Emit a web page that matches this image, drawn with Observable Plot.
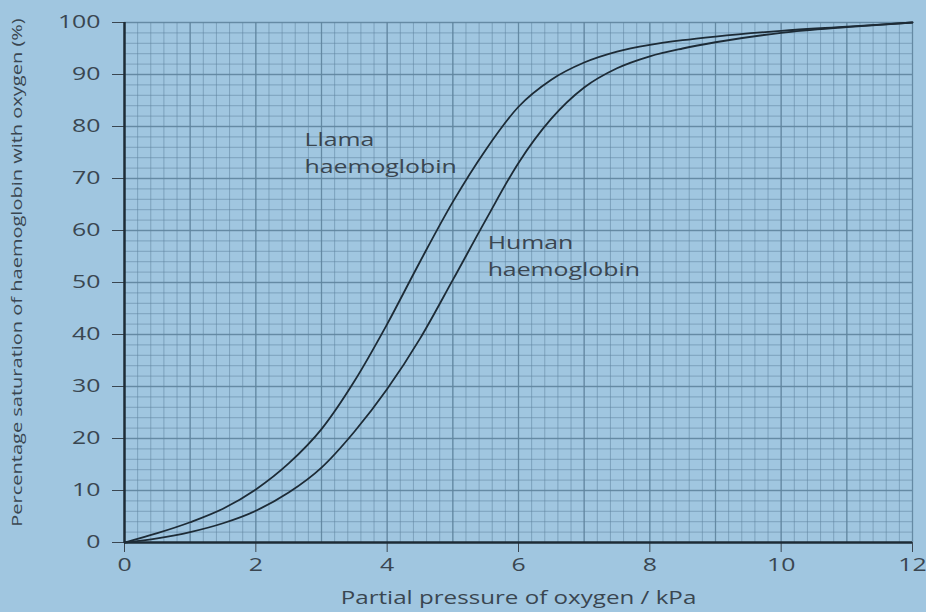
<!DOCTYPE html>
<html>
<head>
<meta charset="utf-8">
<script src="https://cdn.jsdelivr.net/npm/d3@7"></script>
<script src="https://cdn.jsdelivr.net/npm/@observablehq/plot@0.6"></script>
<style>
  html, body { margin: 0; padding: 0; background: #a0c6e0; }
  #chart svg { display: block; }
</style>
</head>
<body>
<div id="chart"></div>
<script>
// Oxygen dissociation curves: partial pressure (kPa) vs. % saturation
const pressure = [0, 0.5, 1, 1.5, 2, 2.5, 3, 3.5, 4, 4.5, 5, 5.5, 6, 6.5, 7, 7.5, 8, 8.5, 9, 10, 11, 12];
const llamaSat = [0, 1.8, 3.9, 6.5, 10.2, 15.2, 21.8, 31, 42, 54, 65.5, 75.5, 83.8, 89, 92.3, 94.4, 95.7, 96.6, 97.3, 98.4, 99.2, 100];
const humanSat = [0, 0.8, 2, 3.7, 6.1, 9.6, 14.4, 21.3, 29.5, 39.2, 50.5, 62, 73, 81.5, 87.5, 91.2, 93.5, 95, 96.2, 98.0, 99.1, 100];

// Axis ticks
const xTicks = [0, 2, 4, 6, 8, 10, 12];
const yTicks = [0, 10, 20, 30, 40, 50, 60, 70, 80, 90, 100];

// Curve labels, anchored in data coordinates
const labelText = ["Llama", "haemoglobin", "Human", "haemoglobin"];
const labelX = [2.74, 2.74, 5.53, 5.53];
const labelY = [77.3, 72.2, 57.6, 52.4];

const llama = pressure.map((p, i) => ({p, s: llamaSat[i]}));
const human = pressure.map((p, i) => ({p, s: humanSat[i]}));
const labels = labelText.map((t, i) => ({t, x: labelX[i], y: labelY[i]}));

// Graph-paper grid
const xMinor = d3.range(0.2, 12.01, 0.2);
const yMinor = d3.range(2, 100.1, 2);
const xMajor = d3.range(1, 12.01, 1);
const yMajor = d3.range(10, 100.1, 10);

const ink = "#1d2b36";
const textInk = "#3a4651";
const gridInk = "#5f849e";

const chart = Plot.plot({
  width: 926,
  height: 612,
  marginLeft: 124,
  marginRight: 14,
  marginTop: 22,
  marginBottom: 70,
  style: {
    background: "#a0c6e0",
    fontFamily: "'Open Sans', sans-serif",
    fontSize: "18px",
    color: textInk
  },
  x: {
    domain: [0, 12],
    ticks: xTicks,
    tickSize: 10,
    tickPadding: 6,
    label: null
  },
  y: {
    domain: [0, 100],
    ticks: yTicks,
    tickSize: 12,
    tickPadding: 12,
    label: null
  },
  marks: [
    Plot.ruleX(xMinor, {stroke: gridInk, strokeOpacity: 0.55, strokeWidth: 1}),
    Plot.ruleY(yMinor, {stroke: gridInk, strokeOpacity: 0.55, strokeWidth: 1}),
    Plot.ruleX(xMajor, {stroke: gridInk, strokeOpacity: 0.8, strokeWidth: 1.3}),
    Plot.ruleY(yMajor, {stroke: gridInk, strokeOpacity: 0.8, strokeWidth: 1.3}),
    Plot.ruleX([0], {stroke: ink, strokeWidth: 2.5}),
    Plot.ruleY([0], {stroke: ink, strokeWidth: 2.5}),
    Plot.line(llama, {x: "p", y: "s", curve: "monotone-x", stroke: ink, strokeWidth: 1.8}),
    Plot.line(human, {x: "p", y: "s", curve: "monotone-x", stroke: ink, strokeWidth: 1.8}),
    Plot.text(labels, {x: "x", y: "y", text: "t", textAnchor: "start", fill: textInk, fontSize: 18}),
    Plot.text(["Partial pressure of oxygen / kPa"], {frameAnchor: "bottom", dy: 61, fill: textInk, fontSize: 17.5}),
    Plot.text(["Percentage saturation of haemoglobin with oxygen (%)"], {frameAnchor: "left", textAnchor: "middle", dx: -107, dy: -10, rotate: -90, fill: textInk, fontSize: 14.5})
  ]
});

// The lettering is a wide face: stretch every label along its reading direction
const widen = 1.38;
chart.querySelectorAll("text").forEach((t) => {
  const x = parseFloat(t.getAttribute("x")) || 0;
  const tr = t.getAttribute("transform") || "";
  t.removeAttribute("x");
  t.setAttribute("transform", `${tr} translate(${x},0) scale(${widen},1)`.trim());
});

document.getElementById("chart").appendChild(chart);
</script>
</body>
</html>
